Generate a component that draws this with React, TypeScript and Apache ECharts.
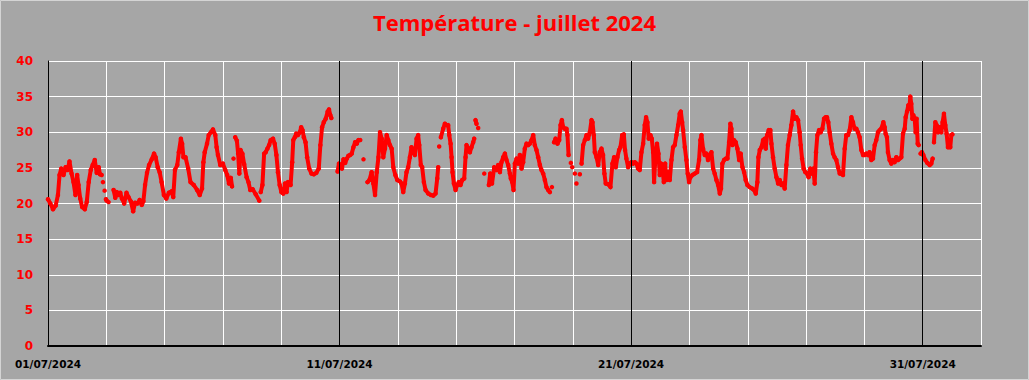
import React, { useEffect, useRef } from 'react';
import * as echarts from 'echarts';

const TITLE = 'Température - juillet 2024';
const DATE_LABELS = ['01/07/2024', '11/07/2024', '21/07/2024', '31/07/2024'];
const LABEL_STEP_HOURS = 240;
const MINOR_STEP_HOURS = 48;
const MAJOR_HOURS = [240, 480, 720];
const X_MAX_HOURS = 768;
const Y_MIN = 0;
const Y_MAX = 40;
const Y_STEP = 5;

// hours since 01/07/2024 00:00 ; null temperature = gap in the record
const hours = [
  0.0, 1.9, 4.1, 6.3, 8.2, 9.5, 10.9, 12.8, 14.5, 16.1, 17.7, 19.4, 21.0, 22.6, 24.0, 25.1, 26.5, 28.1, 30.3, 31.9,
  33.5, 35.2, 36.8, 38.5, 40.1, 41.7, 42.8, 43.5, 44.2, 44.7, 45.2, 45.9, 46.6, 47.2, 47.7, 48.3, 49.1, 49.9, 52.0,
  54.0, 55.4, 56.7, 58.1, 59.5, 60.8, 62.7, 64.6, 66.3, 68.2, 70.1, 71.7, 73.6, 75.5, 77.2, 78.5, 79.9, 81.5, 83.2,
  85.4, 87.3, 88.6, 90.3, 91.9, 93.5, 95.4, 97.4, 99.5, 101.7, 103.1, 104.5, 106.4, 107.7, 109.4, 110.4, 111.5,
  113.2, 115.4, 117.3, 120.0, 122.7, 124.9, 126.8, 127.9, 129.0, 130.9, 132.3, 134.2, 135.8, 137.7, 138.8, 139.9,
  141.8, 144.0, 145.9, 147.5, 149.0, 150.5, 151.5, 152.1, 152.7, 153.4, 154.1, 155.5, 156.5, 157.5, 158.5, 160.0,
  161.5, 163.5, 165.0, 166.5, 168.5, 171.0, 173.9, 174.5,
  175.1, 176.5, 177.9, 179.2, 180.6, 182.0, 183.3, 185.2, 186.6, 188.0, 189.3, 190.7, 192.1, 193.7, 195.1, 196.4,
  197.5, 198.6, 199.7, 201.0, 201.9, 203.2, 204.3, 205.7, 207.3, 208.4, 209.5, 210.6, 212.0, 213.3, 215.0, 216.9,
  218.8, 220.9, 222.9, 224.2, 225.6, 227.0, 228.6, 230.2, 231.3, 232.4, 233.2, 235.0,
  238.4, 239.5, 240.6, 242.0, 243.2, 244.6, 246.0, 247.3, 248.7, 250.0, 251.4, 252.8, 254.2, 255.5, 257.0, 258.5,
  259.7, 261.0,
  263.0, 264.6, 266.4, 267.8, 269.2, 270.6, 272.0, 273.3, 274.7, 276.0, 277.4, 278.8, 280.1, 281.5, 282.9, 284.2,
  285.9, 287.5, 289.7, 291.0, 292.4, 293.8, 295.1, 296.5, 297.9, 299.2, 300.6, 302.0, 303.4, 304.7, 305.6, 306.9,
  308.0, 309.4, 310.8, 313.0, 315.2, 317.1, 319.0, 320.4, 321.2, 321.6, 322.0, 322.7,
  323.4, 325.3, 326.7, 328.1, 329.4, 330.3, 331.4, 332.2, 333.0, 334.1, 335.5, 336.8, 338.2, 339.6, 341.0, 342.6,
  343.7, 344.5, 345.9, 347.3, 348.6, 350.0, 350.8, 351.4, 351.9, 352.7, 353.4, 354.1, 356.0, 359.1, 361.0,
  362.9, 364.0, 365.5, 367.3, 369.2, 370.6, 372.0, 373.3, 374.7, 376.1, 377.4, 378.8, 380.2, 381.0, 382.1, 383.2,
  384.3, 385.7, 387.0, 388.4, 389.8, 391.1, 392.5, 393.9, 395.3, 396.6, 398.0, 399.4, 400.7, 402.1, 403.5, 404.9,
  406.2, 407.6, 409.0, 410.3, 411.7, 413.1, 414.0, 414.8, 415.7,
  416.6, 417.8, 419.4, 420.8, 421.9, 423.0, 424.1, 425.4, 426.8, 427.6, 428.5, 429.4, 430.4, 431.0, 431.5, 432.6,
  433.7, 434.4, 435.0, 436.4, 437.8, 438.5,
  439.2, 440.5, 441.9, 443.3, 444.6, 446.0, 447.4, 448.2, 449.3, 450.1, 451.5, 452.9, 454.2, 455.6, 456.9, 458.0,
  459.1, 461.1, 463.0, 464.6, 466.0, 467.4, 468.7, 470.1, 471.2, 472.6, 474.0, 475.0, 476.1, 477.5, 478.9, 480.3,
  481.6, 483.0, 484.4, 485.7, 487.1, 488.5, 489.9, 491.2, 492.3, 493.4, 494.5, 495.9, 497.0, 498.1, 498.9, 500.0,
  501.3, 502.5, 503.6, 504.7, 505.8, 506.9, 508.0, 509.1, 510.4, 511.8, 513.2, 514.5, 515.9, 517.3, 518.7, 520.0,
  520.9, 522.0, 522.8, 524.2, 525.5, 526.6, 527.7, 528.8, 530.5, 532.4, 534.3, 535.9, 537.0, 537.9, 539.2, 540.6,
  542.0, 543.3, 544.7, 546.1, 547.5, 548.8, 550.2, 551.6, 553.0, 554.0, 555.1, 556.5, 557.9, 559.3, 560.6, 561.7,
  562.5, 563.4, 564.7, 566.1, 567.5, 568.9, 570.2, 571.6, 573.0, 574.3, 575.7, 577.6, 579.6, 581.2, 582.6, 583.9,
  584.8, 585.9, 587.3, 588.6, 590.0, 590.8, 591.9, 593.3, 594.6, 595.5, 596.8, 598.2, 599.6, 601.0, 602.3, 603.7,
  605.1, 606.4, 607.8, 609.1, 610.5, 611.9, 613.3, 614.6, 616.0, 617.4, 618.7, 619.6, 620.7, 622.0, 623.4, 624.8,
  626.1, 627.5, 628.9, 630.0, 631.1, 632.2, 633.3, 634.7, 636.0, 637.4, 638.8, 640.1, 641.2, 642.3, 643.4, 644.8,
  646.2, 647.5, 648.9, 650.3, 651.7, 653.0, 654.4, 655.8, 657.1, 658.5, 659.9, 661.3, 662.6, 664.0, 665.4, 666.7,
  668.1, 669.5, 670.9, 672.2, 673.6, 675.0, 676.3, 677.7, 679.1, 680.5, 681.8, 683.2, 684.6, 685.9, 687.6, 688.7,
  689.5, 690.6, 691.4, 692.8, 694.2, 695.5, 696.9, 698.3, 699.7, 701.0, 702.4, 703.8, 705.2, 706.0, 707.1, 708.2,
  709.0, 709.8, 710.6, 711.5, 712.3, 713.4, 714.2, 715.0, 715.9, 716.7, 717.5,
  718.3, 719.4, 720.5, 722.2, 723.8, 725.8, 727.1, 728.2, 728.8,
  729.3, 730.4, 731.5, 732.6, 734.0, 735.3, 736.4, 737.5, 738.6, 739.7, 740.8, 741.9, 742.7, 743.6, 744.4,
];

const temps: (number | null)[] = [
  20.6, 20.0, 19.2, 19.7, 21.2, 24.0, 24.9, 24.0, 25.1, 24.7, 25.9, 24.2, 23.0, 21.2, 24.0, 22.6, 20.7, 19.5, 19.2, 20.2,
  23.0, 24.7, 25.4, 26.1, 24.3, 25.1, 24.1, null, 24.0, null, 23.0, null, 21.8, null, 20.6, 20.4, null, 20.2, null,
  21.9, 20.8, 21.6, 21.2, 21.5, 20.7, 20.0, 21.5, 20.9, 20.3, 18.9, 20.1, 20.0, 20.5, 19.8, 20.3, 22.6, 24.3, 25.4,
  26.2, 27.0, 26.5, 25.1, 24.4, 23.0, 21.2, 20.7, 21.5, 21.7, 20.9, 24.7, 25.4, 27.2, 29.1, 28.4, 26.5,
  26.5, 24.9, 23.0, 22.6, 21.9, 21.2, 22.1, 25.8, 27.2, 28.4, 29.6, 30.0, 30.4, 29.6, 27.9, 26.8,
  25.4, 25.6, 24.7, 24.0, 22.8, 23.6, 22.4, null, 26.3, null, 29.3, 28.8, 27.0, 24.2, 27.5, 27.0,
  25.5, 23.7, 23.0, 21.9, 22.0, 21.3, 20.4, null,
  21.6, 22.6, 27.0, 27.2, 27.7, 28.2, 28.9, 29.1, 28.4, 26.8, 24.4, 22.6, 21.6, 21.4, 22.8, 21.6,
  23.0, 22.8, 22.6, 25.8, 28.9, 29.3, 29.8, 29.6, 30.0, 30.7, 30.3, 29.3, 28.6, 26.5, 24.9, 24.2,
  24.1, 24.3, 24.9, 28.2, 30.7, 31.4, 31.9, 32.9, 33.2, 32.4, 32.0, null,
  24.5, 25.6, 25.0, 24.9, 26.2, 25.7, 26.3, 26.7, 26.8, 27.0, 27.9, 28.6, 28.4, 28.9, 28.9, null,
  26.2, null,
  23.0, 23.3, 24.4, 22.8, 21.2, 24.4, 26.5, 30.0, 29.1, 26.5, 27.7, 29.6, 28.9, 28.2, 27.7, 25.1,
  24.0, 23.3, 23.1, 22.8, 21.6, 22.8, 24.4, 25.1, 26.5, 27.9, 27.2, 26.8, 29.1, 29.6, 28.2, 25.4,
  25.1, 23.0, 21.9, 21.4, 21.2, 21.1, 21.4, 23.5, 25.1, null, 28.0, null,
  29.3, 30.5, 31.2, 31.0, 31.0, 29.6, 28.4, 26.5, 24.4, 22.8, 21.9, 22.6, 23.0, 22.6, 23.3, 23.5,
  26.5, 28.2, 27.7, 27.2, 27.9, 28.6, 29.1, null, 31.7, 31.2, null, 30.6, null, 24.2, null,
  22.6, 24.2, 22.8, 25.1, 24.7, 25.4, 24.4, 25.8, 26.5, 27.0, 26.1, 25.4, 24.2, 23.5, 23.0, 21.9,
  25.6, 26.3, 25.6, 26.8, 24.9, 25.8, 27.7, 28.4, 28.2, 28.4, 28.9, 29.6, 28.2, 27.5, 26.5, 25.4,
  24.7, 24.2, 23.3, 22.3, 21.9, 21.6, null, 22.3, null,
  28.6, 29.1, 28.4, 28.9, 31.0, 31.7, 30.7, 30.5, 30.5, 29.6, 26.8, null, 25.7, null, 25.1, null,
  24.2, null, 22.8, null, 24.1, null,
  25.6, 28.2, 28.9, 29.6, 29.1, 30.0, 31.7, 31.4, 29.6, 27.2, 26.5, 25.4, 27.2, 27.7, 26.8, 24.2,
  22.8, 22.7, 22.3, 25.6, 26.5, 25.1, 26.5, 27.5, 27.9, 29.6, 29.7, 27.5, 26.3, 25.1, 25.6, 25.8,
  25.6, 25.8, 25.6, 24.9, 24.7, 27.2, 28.4, 31.0, 32.1, 31.4, 29.1, 29.6, 29.1, 27.2, 23.0, 26.5,
  28.4, 27.0, 24.0, 25.6, 24.9, 23.0, 25.6, 23.3, 24.4, 23.3, 26.1, 27.9, 28.2, 29.6, 31.0, 32.6,
  32.9, 31.4, 30.3, 27.9, 26.1, 24.2, 23.0, 23.7, 24.0, 24.2, 24.4, 26.1, 28.9, 29.6, 27.7, 26.8,
  27.0, 26.1, 26.8, 27.2, 24.9, 24.2, 23.3, 22.6, 21.4, 22.1, 25.6, 26.1, 26.3, 26.3, 28.6, 31.2,
  30.5, 28.2, 28.9, 28.6, 27.7, 26.1, 27.0, 25.1, 24.4, 23.3, 22.6, 22.3, 22.1, 21.9, 21.4, 23.0,
  26.5, 27.5, 27.9, 28.9, 29.1, 27.7, 29.6, 30.3, 30.3, 28.4, 26.5, 24.9, 23.7, 22.8, 23.3, 22.6,
  22.8, 22.1, 25.4, 28.2, 29.6, 31.0, 32.9, 31.9, 32.1, 31.7, 30.0, 28.2, 26.3, 24.9, 24.4, 24.2,
  23.7, 24.9, 24.2, 24.9, 22.8, 27.2, 29.6, 30.3, 30.0, 30.5, 31.9, 32.1, 32.1, 31.4, 30.0, 28.4,
  27.0, 26.5, 26.1, 25.1, 24.2, 24.2, 24.0, 27.7, 29.6, 29.6, 30.3, 32.1, 31.4, 30.5, 30.5, 30.0,
  29.3, 27.5, 26.8, 26.8, 27.0, 26.8, 27.2, 26.1, 26.3, 28.2, 28.9, 30.0, 30.3, 30.5, 31.4, 30.7,
  29.8, 29.3, 27.2, 26.1, 25.6, 26.1, 25.8, 26.5, 26.1, 26.3, 26.5, 29.8, 30.5, 32.1, 32.9, 33.8,
  33.3, 35.0, 34.0, 31.9, 32.4, 31.9, 30.0, 31.9, 28.4, 28.2, null,
  27.0, 27.2, 26.8, 26.1, 25.7, 25.4, 25.6, 26.3, null,
  28.6, 31.4, 31.0, 30.0, 30.7, 30.0, 31.4, 32.6, 31.0, 29.8, 27.9, 28.4, 27.9, 29.6, 29.7,
];

const seriesData = hours.map((h, i) => [h, temps[i] == null ? '-' : temps[i]]);

export default function App() {
  const ref = useRef<HTMLDivElement>(null);

  useEffect(() => {
    document.body.style.margin = '0';
    const chart = echarts.init(ref.current!, null, { renderer: 'svg' });
    chart.setOption({
      animation: false,
      backgroundColor: '#a6a6a6',
      title: {
        text: TITLE,
        left: 'center',
        top: 6,
        textStyle: {
          color: '#ff0000',
          fontWeight: 'bold',
          fontSize: 22,
          fontFamily: "'Open Sans', sans-serif",
        },
      },
      graphic: [
        {
          type: 'rect',
          shape: { x: 0.5, y: 0.5, width: 1028, height: 379 },
          style: { fill: 'none', stroke: '#d4d4d4', lineWidth: 1 },
          silent: true,
        },
      ],
      grid: { left: 48, right: 48, top: 61, bottom: 34, containLabel: false, outerBoundsMode: 'none' },
      xAxis: {
        type: 'value',
        min: 0,
        max: X_MAX_HOURS,
        interval: MINOR_STEP_HOURS,
        axisLine: { show: true, onZero: false, lineStyle: { color: '#000', width: 2 } },
        axisTick: { show: false },
        splitLine: { show: true, lineStyle: { color: '#ffffff', width: 1 } },
        axisLabel: {
          margin: 12,
          color: '#000',
          fontWeight: 'bold',
          fontSize: 10.5,
          fontFamily: "'DejaVu Sans', sans-serif",
          formatter: (v: number) =>
            v % LABEL_STEP_HOURS === 0 && DATE_LABELS[v / LABEL_STEP_HOURS] ? DATE_LABELS[v / LABEL_STEP_HOURS] : '',
        },
      },
      yAxis: {
        type: 'value',
        min: Y_MIN,
        max: Y_MAX,
        interval: Y_STEP,
        axisLine: { show: true, lineStyle: { color: '#000', width: 1 } },
        axisTick: { show: false },
        splitLine: { show: true, lineStyle: { color: '#ffffff', width: 1 } },
        axisLabel: {
          margin: 15,
          color: '#ff0000',
          fontWeight: 'bold',
          fontSize: 12,
          fontFamily: "'DejaVu Sans', sans-serif",
        },
      },
      series: [
        {
          type: 'line',
          data: [],
          z: 1,
          silent: true,
          markLine: {
            silent: true,
            symbol: 'none',
            animation: false,
            label: { show: false },
            lineStyle: { color: '#000', width: 1, type: 'solid' },
            data: MAJOR_HOURS.map((h) => ({ xAxis: h })),
          },
        },
        {
          type: 'line',
          z: 3,
          data: seriesData,
          connectNulls: false,
          showSymbol: true,
          showAllSymbol: true,
          symbol: 'circle',
          symbolSize: 4.5,
          itemStyle: { color: '#ff0000', borderWidth: 0 },
          lineStyle: { color: '#ff0000', width: 4, join: 'round', cap: 'round' },
          emphasis: { disabled: true },
        },
      ],
    });
    return () => chart.dispose();
  }, []);

  return <div ref={ref} style={{ width: 1029, height: 380 }} />;
}
